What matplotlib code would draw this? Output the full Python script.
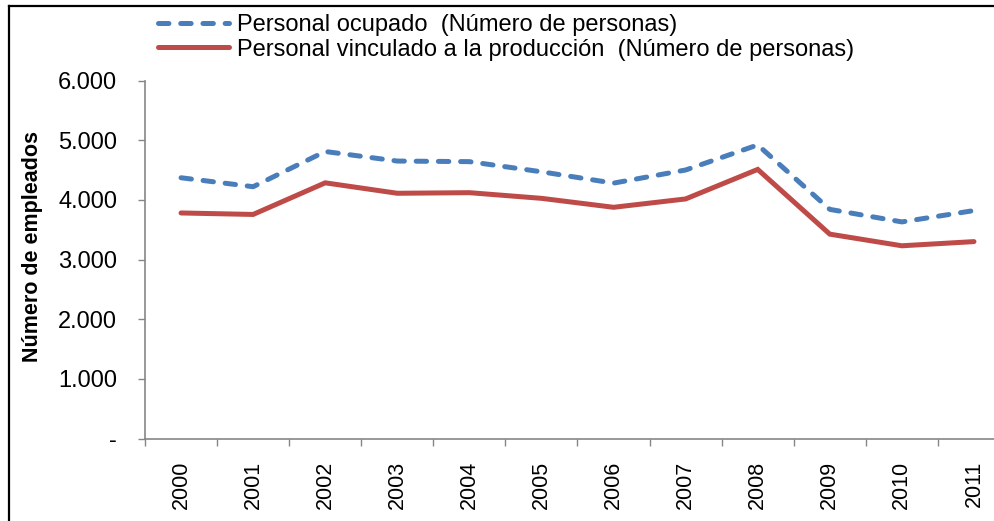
import matplotlib
matplotlib.use('Agg')
import matplotlib.pyplot as plt
from matplotlib.lines import Line2D
from matplotlib.ticker import FuncFormatter

plt.rcParams['font.family'] = ['Liberation Sans', 'DejaVu Sans']
plt.rcParams['lines.scale_dashes'] = False

years = ['2000', '2001', '2002', '2003', '2004', '2005',
         '2006', '2007', '2008', '2009', '2010', '2011']
ocupado = [4370, 4220, 4810, 4650, 4640, 4470,
           4280, 4500, 4920, 3840, 3630, 3820]
vinculado = [3780, 3755, 4285, 4110, 4120, 4025,
             3875, 4015, 4510, 3425, 3230, 3300]
y_ticks = [0, 1000, 2000, 3000, 4000, 5000, 6000]

label_ocupado = 'Personal ocupado  (Número de personas)'
label_vinculado = 'Personal vinculado a la producción  (Número de personas)'

blue = '#4A7EBB'
red = '#BE4B48'
axis_grey = '#868686'

fig = plt.figure(figsize=(9.95, 5.21), dpi=100)
# axes runs past the right edge, the source image is cropped there
ax = fig.add_axes([145 / 995, 1 - 438.5 / 521, 865 / 995, 358 / 521])

x = list(range(len(years)))
ax.plot(x, ocupado, color=blue, lw=3.6, dashes=(7.5, 8.5),
        dash_capstyle='round', solid_capstyle='round', label=label_ocupado)
ax.plot(x, vinculado, color=red, lw=3.6, solid_capstyle='round',
        solid_joinstyle='miter', label=label_vinculado)

ax.set_xlim(-0.5, len(years) - 0.5)
ax.set_ylim(0, 6000)
ax.set_yticks(y_ticks)


def thousands(v, pos):
    if v == 0:
        return '-'
    return f'{int(v):,}'.replace(',', '.')


ax.yaxis.set_major_formatter(FuncFormatter(thousands))
ax.set_xticks(x)
ax.set_xticklabels(years, rotation=90, va='top', ha='center')
ax.set_xticks([i - 0.5 for i in range(len(years) + 1)], minor=True)

ax.tick_params(axis='x', which='major', length=0, pad=16, labelsize=15.5)
ax.tick_params(axis='x', which='minor', length=5, width=1, color=axis_grey)
ax.tick_params(axis='y', length=5, width=1, color=axis_grey, pad=15,
               labelsize=17)

for side in ['top', 'right']:
    ax.spines[side].set_visible(False)
for side in ['left', 'bottom']:
    ax.spines[side].set_color(axis_grey)
    ax.spines[side].set_linewidth(1.2)

ax.set_ylabel('Número de empleados', fontsize=15.5, fontweight='bold',
              labelpad=0)
ax.yaxis.set_label_coords(-(145 - 43) / 865, (438.5 - 246) / 358)

fig.legend(loc='upper left', bbox_to_anchor=(143 / 995, 1 + 1 / 521),
           frameon=False, fontsize=17, handlelength=3.0,
           handletextpad=0.35, labelspacing=0.1, borderpad=0.15)

# frame around the picture, only left and top visible
fig.add_artist(Line2D([9 / 995, 9 / 995], [0, 1 - 6 / 521],
                      transform=fig.transFigure, color='black', lw=1.6))
fig.add_artist(Line2D([9 / 995, 1], [1 - 6 / 521, 1 - 6 / 521],
                      transform=fig.transFigure, color='black', lw=1.6))

fig.savefig('out.png', dpi=100)
